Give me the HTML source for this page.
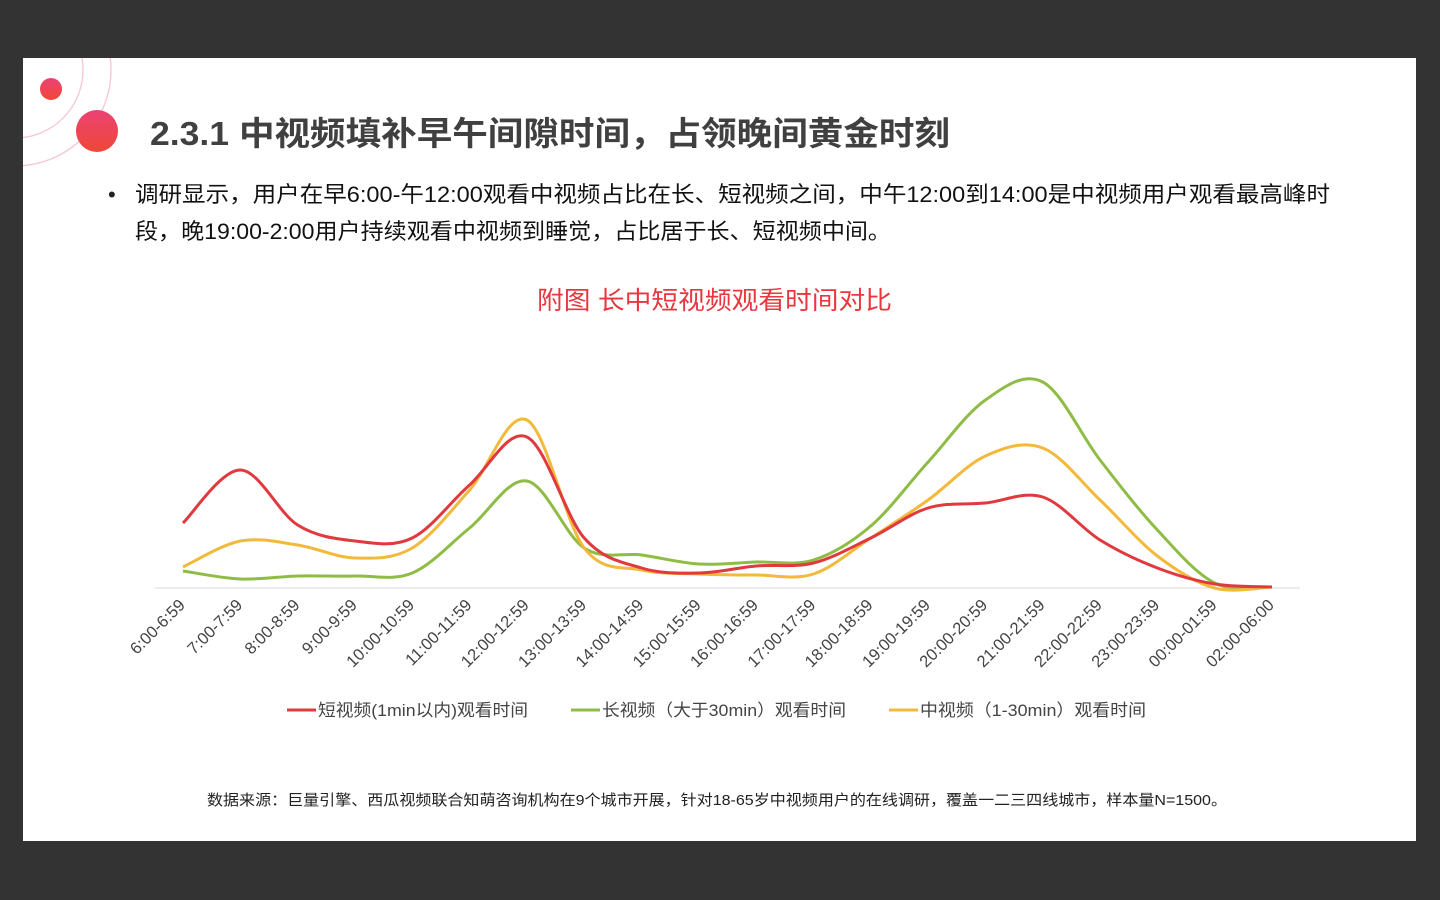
<!DOCTYPE html>
<html><head><meta charset="utf-8"><style>
body{margin:0;width:1440px;height:900px;background:#333;overflow:hidden;font-family:"Liberation Sans","Noto Sans CJK SC",sans-serif}
#s{position:absolute;left:23px;top:58px;width:1393px;height:783px;background:#fff;overflow:hidden}
</style></head><body>
<div id="s"></div>
<svg width="1440" height="900" style="position:absolute;left:0;top:0" font-family="Liberation Sans, Noto Sans CJK SC, sans-serif">
<defs><linearGradient id="g" x1="0" y1="0" x2="0" y2="1"><stop offset="0" stop-color="#ec4275"/><stop offset="1" stop-color="#ef4736"/></linearGradient>
<clipPath id="c"><rect x="23" y="58" width="1393" height="783"/></clipPath></defs>
<g clip-path="url(#c)" fill="none" stroke="#f6c6d3" stroke-width="1.3">
<circle cx="15" cy="70" r="68"/><circle cx="15" cy="70" r="96"/></g>
<circle cx="51" cy="89" r="11" fill="url(#g)"/>
<circle cx="97" cy="131" r="21" fill="url(#g)"/>
<text x="150" y="145" font-size="33" font-weight="bold" fill="#404040" textLength="800" lengthAdjust="spacingAndGlyphs">2.3.1  中视频填补早午间隙时间，占领晚间黄金时刻</text>
<text x="108" y="202" font-size="22" fill="#222">•</text>
<text x="135" y="202" font-size="22" fill="#111" textLength="1195" lengthAdjust="spacingAndGlyphs">调研显示，用户在早6:00-午12:00观看中视频占比在长、短视频之间，中午12:00到14:00是中视频用户观看最高峰时</text>
<text x="135" y="239" font-size="22" fill="#111" textLength="756" lengthAdjust="spacingAndGlyphs">段，晚19:00-2:00用户持续观看中视频到睡觉，占比居于长、短视频中间。</text>
<text x="537" y="309" font-size="25" fill="#e8373e" textLength="355" lengthAdjust="spacingAndGlyphs">附图  长中短视频观看时间对比</text>
<line x1="155" y1="588" x2="1300" y2="588" stroke="#d9d9d9" stroke-width="1"/>
<g id="lines" fill="none" stroke-width="3"></g>
<g id="labs" font-size="16.5" fill="#444"></g>
<g font-size="17" fill="#444">
<line x1="287" y1="710" x2="316" y2="710" stroke="#e0393e" stroke-width="3"/><text x="318" y="716" textLength="210" lengthAdjust="spacingAndGlyphs">短视频(1min以内)观看时间</text>
<line x1="571" y1="710" x2="600" y2="710" stroke="#8fbc45" stroke-width="3"/><text x="602" y="716" textLength="244" lengthAdjust="spacingAndGlyphs">长视频（大于30min）观看时间</text>
<line x1="889" y1="710" x2="918" y2="710" stroke="#f2b93b" stroke-width="3"/><text x="920" y="716" textLength="226" lengthAdjust="spacingAndGlyphs">中视频（1-30min）观看时间</text>
</g>
<text x="207" y="805" font-size="15" fill="#222" textLength="1020" lengthAdjust="spacingAndGlyphs">数据来源：巨量引擎、西瓜视频联合知萌咨询机构在9个城市开展，针对18-65岁中视频用户的在线调研，覆盖一二三四线城市，样本量N=1500。</text>
</svg>
<script>
var xs=[],labels=["6:00-6:59","7:00-7:59","8:00-8:59","9:00-9:59","10:00-10:59","11:00-11:59","12:00-12:59","13:00-13:59","14:00-14:59","15:00-15:59","16:00-16:59","17:00-17:59","18:00-18:59","19:00-19:59","20:00-20:59","21:00-21:59","22:00-22:59","23:00-23:59","00:00-01:59","02:00-06:00"];
for(var i=0;i<20;i++)xs.push(183+i*1089/19);
var S={"#f2b93b":[567,541,545,558,548,490,420,548,570,574,575,574,538,500,456,448,500,556,588,587],
"#8fbc45":[571,579,576,576,573,528,481,548,555,564,562,560,526,462,400,382,460,530,583,587],
"#e0393e":[523,470,525,541,538,485,437,538,568,573,566,563,538,508,503,497,540,568,584,587]};
var order=["#8fbc45","#f2b93b","#e0393e"],h="";
order.forEach(function(c){var y=S[c],d="M"+xs[0]+","+y[0];
for(var i=0;i<19;i++){var p0=i?i-1:0,p3=i<18?i+2:19;
var c1x=xs[i]+(xs[i+1]-xs[p0])/6,c1y=y[i]+(y[i+1]-y[p0])/6,c2x=xs[i+1]-(xs[p3]-xs[i])/6,c2y=y[i+1]-(y[p3]-y[i])/6;
d+=" C"+c1x+","+c1y+" "+c2x+","+c2y+" "+xs[i+1]+","+y[i+1];}
h+='<path d="'+d+'" stroke="'+c+'"/>';});
document.getElementById("lines").innerHTML=h;
var l="";labels.forEach(function(t,i){l+='<text text-anchor="end" transform="translate('+(xs[i]+3)+',606) rotate(-45)">'+t+'</text>';});
document.getElementById("labs").innerHTML=l;
</script>
</body></html>
